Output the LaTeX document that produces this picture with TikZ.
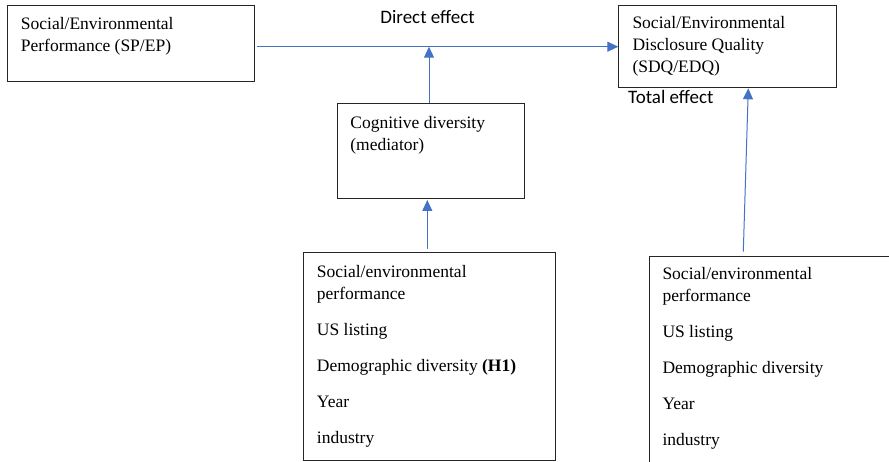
\documentclass[tikz,border=0pt]{standalone}
\usepackage{fontspec}
\setmainfont{Liberation Serif}
\newfontfamily\effectfont{Carlito}
\usepackage{tikz}
\usetikzlibrary{arrows.meta,positioning}
\definecolor{linkblue}{HTML}{4472C4}
\tikzstyle{arrow} = [-{Triangle[length=11pt,width=10pt]}]
\tikzstyle{blueArrow} = [arrow, color=linkblue, line width=1pt]
\tikzstyle{stdBox} = [shape = rectangle, draw = black!85, line width = 1.1pt, inner sep = 0pt, anchor = north west]
\tikzstyle{boxText} = [inner sep = 0pt, anchor = north west, align = left, font = \fontsize{17.5}{22}\selectfont]
\tikzstyle{effectLabel} = [inner sep = 0pt, font = \effectfont\fontsize{19}{22}\selectfont]

\begin{document}
\begin{tikzpicture}[x=1pt, y=1pt]
	\useasboundingbox (0,0) rectangle (889,461);
	\clip (0,0) rectangle (889,461);
	% boxes
	\node (SPEP) [stdBox, minimum width = 247.6pt, minimum height = 75.4pt] at (6.7,455.7) {};
	\node (SDQ) [stdBox, minimum width = 217.4pt, minimum height = 81.7pt] at (618.3,456) {};
	\node (CogDiv) [stdBox, minimum width = 187.3pt, minimum height = 94.7pt] at (336.7,357.7) {};
	\node (CtrlMed) [stdBox, minimum width = 252.3pt, minimum height = 207.7pt] at (302.7,208.7) {};
	\node (CtrlTot) [stdBox, minimum width = 260pt, minimum height = 240pt] at (649,205.3) {};
	% texts
	\node (SPEPtext) [boxText, below right = 12pt and 14pt of SPEP.north west] {
		Social/Environmental\\Performance (SP/EP)
	};
	\node (SDQtext) [boxText, below right = 11.3pt and 14pt of SDQ.north west] {
		Social/Environmental\\Disclosure Quality\\(SDQ/EDQ)
	};
	\node (CogDivtext) [boxText, below right = 12.8pt and 13.5pt of CogDiv.north west] {
		Cognitive diversity\\(mediator)
	};
	\node (CtrlMedtext) [boxText, below right = 12.4pt and 14pt of CtrlMed.north west] {
		Social/environmental\\performance\\[14pt]
		US listing\\[14pt]
		Demographic diversity \textbf{(H1)}\\[14pt]
		Year\\[14pt]
		industry
	};
	\node (CtrlTottext) [boxText, below right = 11.6pt and 13.3pt of CtrlTot.north west] {
		Social/environmental\\performance\\[14pt]
		US listing\\[14pt]
		Demographic diversity\\[14pt]
		Year\\[14pt]
		industry
	};
	% effect labels
	\node (direct) [effectLabel, anchor = base] at (427.5,437.7) {Direct effect};
	\node (total) [effectLabel, anchor = base west] at (628,357.7) {Total effect};
	% connectors
	\coordinate (dirStart) at (256.7,414.3);
	\coordinate (cogStart) at (429,357.7);
	\coordinate (medStart) at (427.3,212);
	\coordinate (medEnd) at (427.3,261);
	\coordinate (totStart) at (743.3,209.3);
	\coordinate (totEnd) at (748.3,372.7);
	\draw[blueArrow] (dirStart) -- (SDQ.west |- dirStart);
	\draw[blueArrow] (cogStart) -- (cogStart |- dirStart);
	\draw[blueArrow] (medStart) -- (medEnd);
	\draw[blueArrow] (totStart) -- (totEnd);
\end{tikzpicture}
\end{document}
